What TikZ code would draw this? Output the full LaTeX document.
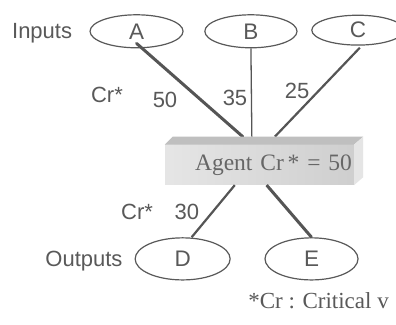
\documentclass[tikz,border=0pt]{standalone}
\usepackage{fontspec}
\setmainfont{Liberation Serif}
\setsansfont{Liberation Sans}
\usetikzlibrary{shapes.geometric}
\definecolor{inkgray}{HTML}{595959}
\definecolor{linegray}{HTML}{555555}
\begin{document}
\begin{tikzpicture}
      % Define styles for nodes
      \tikzstyle{agentnode} = [ellipse, draw=inkgray, line width=1.2pt,
      fill=white, inner sep=0pt, text=inkgray,
      font=\sffamily\fontsize{22.5}{26}\selectfont]
      \tikzstyle{label} = [text=inkgray, inner sep=0pt,
      font=\sffamily\fontsize{22}{26}\selectfont]
      \tikzstyle{weight} = [draw=linegray]

      % Fixed picture size
      \fill[white] (0,0) rectangle (13.92,11.42);
      \useasboundingbox (0,0) rectangle (13.92,11.42);

      % Inputs at top
      \node[label] (inputs) at (1.48,10.26) {Inputs};
      \node[agentnode, minimum width=3.27cm, minimum height=1.16cm] (A) at (4.80,10.32) {A};
      \node[agentnode, minimum width=3.24cm, minimum height=1.16cm] (B) at (8.82,10.32) {B};
      \node[agentnode, minimum width=3.24cm, minimum height=1.05cm] (C) at (12.58,10.36) {C};

      % Outputs at bottom
      \node[label] (outputs) at (2.95,2.25) {Outputs};
      \node[agentnode, minimum width=3.34cm, minimum height=1.48cm] (D) at (6.42,2.32) {D};
      \node[agentnode, minimum width=3.27cm, minimum height=1.48cm] (E) at (10.95,2.32) {E};

      % The agent box (front face)
      \node[rectangle, left color=black!10, right color=black!19,
      text width=6.5cm, align=right, inner xsep=0.07cm, minimum height=1.41cm,
      text=black!60, font=\fontsize{23.5}{27}\selectfont]
      (agent) at (9.12,5.625) {Agent Cr\,* = 50};
      \coordinate (inA) at ([shift={(2.74,0.28)}]agent.north west);
      \coordinate (inB) at ([shift={(3.06,0.28)}]agent.north west);
      \coordinate (inC) at ([shift={(3.87,0.28)}]agent.north west);
      \coordinate (outD) at ([shift={(2.46,0)}]agent.south west);
      \coordinate (outE) at ([shift={(3.58,0)}]agent.south west);

      % Connections
      \draw[weight, line width=3pt, line cap=round] ([yshift=5pt]A.south) -- (inA);
      \draw[weight, line width=1.3pt] (B.south) -- (inB);
      \draw[weight, line width=2.2pt] ([xshift=2pt,yshift=-2pt]C.south) -- (inC);
      \draw[weight, line width=2.2pt] (outD) -- ([xshift=9pt]D.north);
      \draw[weight, line width=3pt] (outE) -- (E.north);

      % Top and side of the box
      \fill[black!25] (agent.north west) -- ++(0.28,0.28)
        -- ([shift={(0.32,0.28)}]agent.north east) -- (agent.north east) -- cycle;
      \fill[black!10] (agent.north east) -- ++(0.32,0.28)
        -- ([shift={(0.32,0.28)}]agent.south east) -- (agent.south east) -- cycle;

      % Critical values
      \node[label] (cr1) at (3.76,8.08) {Cr*};
      \node[label] (w50) at (5.80,7.91) {50};
      \node[label] (w35) at (8.26,7.98) {35};
      \node[label] (w25) at (10.44,8.22) {25};
      \node[label] (cr2) at (4.82,3.97) {Cr*};
      \node[label] (w30) at (6.57,3.97) {30};

      % note at bottom
      \node[anchor=west, text=inkgray, inner sep=0pt,
      font=\fontsize{23}{27}\selectfont] (note) at (8.72,0.84) {*Cr : Critical v};
    \end{tikzpicture}
\end{document}
